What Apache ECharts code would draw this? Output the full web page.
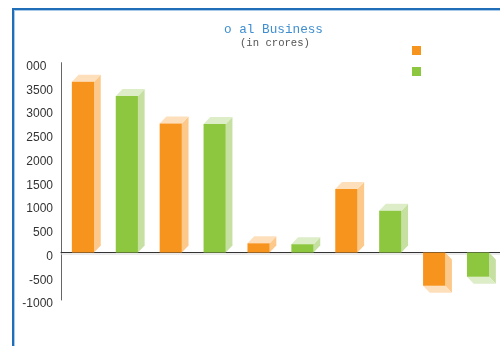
<!DOCTYPE html>
<html>
<head>
<meta charset="utf-8">
<script src="https://cdn.jsdelivr.net/npm/echarts@6/dist/echarts.min.js"></script>
<style>
html,body{margin:0;padding:0;background:#fff;}
#chart{width:500px;height:347px;}
</style>
</head>
<body>
<div id="chart"></div>
<script>
// ---- data ----
var categories = ['1', '2', '3', '4', '5'];
var orangeValues = [3600, 2720, 195, 1340, -700];
var greenValues = [3300, 2710, 175, 880, -510];
var yTicks = { min: -1000, max: 4000, interval: 500 };
var titleText = 'o al Business';
var subtitleText = '(in crores)';

var chart = echarts.init(document.getElementById('chart'), null, { renderer: 'canvas' });

function makeRender(offset, front, side, top) {
  return function (params, api) {
    var idx = api.value(0), v = api.value(1);
    var c0 = api.coord([idx, 0]);
    var band = api.size([1, 0])[0];
    var cx = c0[0] + offset * band;
    var w = band * 0.2525;
    var x0 = cx - w / 2, x1 = cx + w / 2;
    var base = c0[1];
    var end = api.coord([idx, v])[1];
    var dx = 6.7, dy = 7;
    var s = v >= 0 ? -1 : 1;
    var y0 = Math.min(base, end), h = Math.abs(end - base);
    return {
      type: 'group',
      children: [
        { type: 'polygon', shape: { points: [[x1, base], [x1 + dx, base + s * dy], [x1 + dx, end + s * dy], [x1, end]] }, style: { fill: side } },
        { type: 'polygon', shape: { points: [[x0, end], [x0 + dx, end + s * dy], [x1 + dx, end + s * dy], [x1, end]] }, style: { fill: top } },
        { type: 'rect', shape: { x: x0, y: y0, width: w, height: h }, style: { fill: front } }
      ]
    };
  };
}

function toData(vals) { return vals.map(function (v, i) { return [i, v]; }); }

chart.setOption({
  animation: false,
  backgroundColor: '#fff',
  title: [
    { text: titleText, left: 224, top: 23, padding: 0,
      textStyle: { fontFamily: 'Liberation Mono', fontSize: 12.7, fontWeight: 'normal', color: '#3E8ED0', lineHeight: 14 } },
    { text: subtitleText, left: 240, top: 37.5, padding: 0,
      textStyle: { fontFamily: 'Liberation Mono', fontSize: 10.6, fontWeight: 'normal', color: '#555', lineHeight: 12 } }
  ],
  legend: {
    orient: 'vertical', left: 412, top: 46, padding: 0,
    itemWidth: 9, itemHeight: 9, itemGap: 12, icon: 'rect',
    formatter: function () { return ''; },
    textStyle: { fontSize: 9, lineHeight: 9 },
    data: ['Orange', 'Green']
  },
  grid: { left: 61, top: 62.7, width: 445.5, bottom: 47, containLabel: false },
  xAxis: {
    type: 'category', data: categories,
    axisLine: { onZero: true, lineStyle: { color: '#333', width: 1, shadowColor: '#d8d8d8', shadowOffsetY: 1.5, shadowBlur: 0 } },
    axisTick: { show: false }, axisLabel: { show: false }, splitLine: { show: false }
  },
  yAxis: {
    type: 'value', min: yTicks.min, max: yTicks.max, interval: yTicks.interval,
    axisLine: { show: true, lineStyle: { color: '#666', width: 1 } },
    axisTick: { show: false }, splitLine: { show: false },
    axisLabel: {
      margin: 8, color: '#333', fontFamily: 'Liberation Sans', fontSize: 12,
      verticalAlign: 'top', lineHeight: 8,
      formatter: function (v) { return v === 4000 ? '000  ' : String(v); }
    }
  },
  graphic: [
    { type: 'rect', shape: { x: 12, y: 8, width: 500, height: 2 }, style: { fill: '#1F6EB7' }, z: 10 },
    { type: 'rect', shape: { x: 14, y: 10, width: 500, height: 1 }, style: { fill: '#A9C9E8' }, z: 10 },
    { type: 'rect', shape: { x: 12, y: 8, width: 2, height: 338 }, style: { fill: '#1F6EB7' }, z: 10 },
    { type: 'rect', shape: { x: 14, y: 10, width: 1, height: 336 }, style: { fill: '#A9C9E8' }, z: 10 }
  ],
  series: [
    { name: 'Orange', type: 'custom', itemStyle: { color: '#F7941E' },
      renderItem: makeRender(-0.25, '#F7941E', '#FDC98B', '#FEDFBC'),
      encode: { x: 0, y: 1 }, data: toData(orangeValues) },
    { name: 'Green', type: 'custom', itemStyle: { color: '#8DC63F' },
      renderItem: makeRender(0.25, '#8DC63F', '#C6E0A2', '#DDEDC8'),
      encode: { x: 0, y: 1 }, data: toData(greenValues) }
  ]
});
</script>
</body>
</html>
